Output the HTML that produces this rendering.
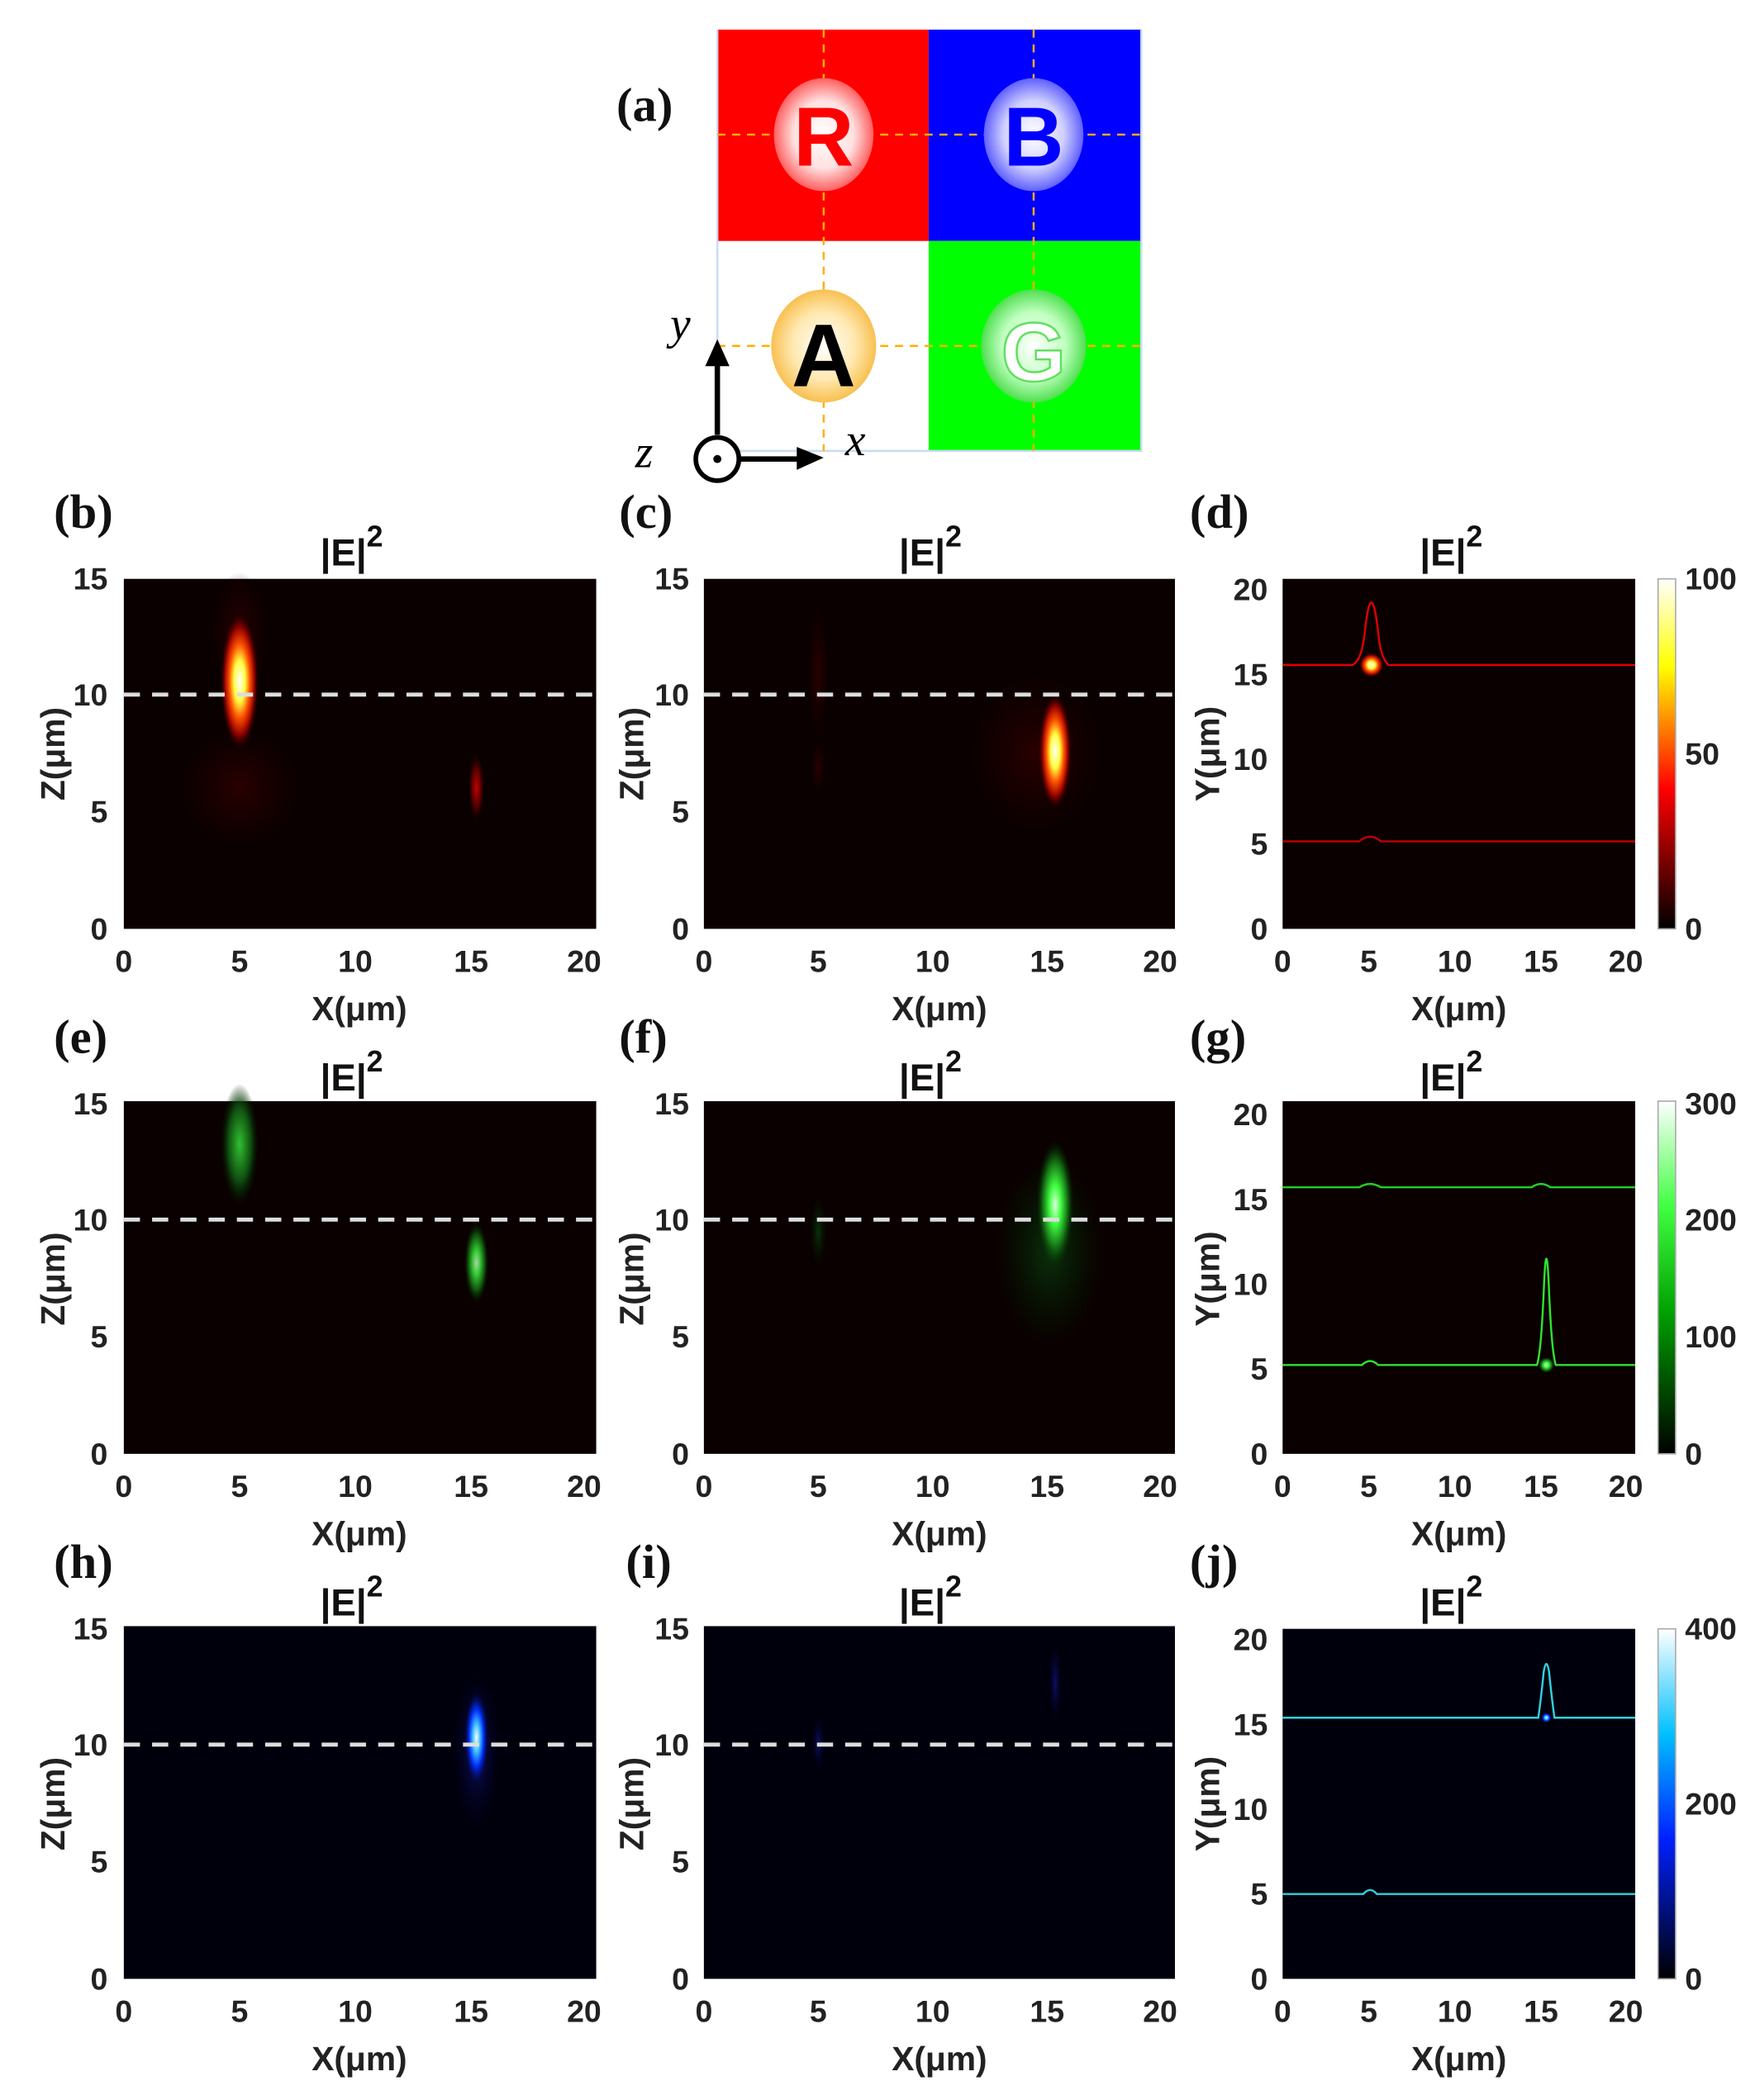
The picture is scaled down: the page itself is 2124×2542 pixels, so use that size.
<!DOCTYPE html>
<html><head><meta charset="utf-8"><style>
html,body{margin:0;padding:0;background:#fff;}
svg{display:block;}
.t{font-family:"Liberation Sans",sans-serif;font-weight:bold;font-size:23px;fill:#222;}
.al{font-family:"Liberation Sans",sans-serif;font-weight:bold;font-size:25px;fill:#222;}
.pl{font-family:"Liberation Serif",serif;font-weight:bold;font-size:36px;fill:#111;}
.ti{font-family:"Liberation Sans",sans-serif;font-weight:bold;font-size:28px;fill:#111;}
</style></head><body>
<svg width="2124" height="2542" viewBox="0 0 1304 1560" preserveAspectRatio="none" xmlns="http://www.w3.org/2000/svg">
<defs>
<radialGradient id="hot"><stop offset="0" stop-color="#fff"/><stop offset="0.3" stop-color="#ffff40"/><stop offset="0.55" stop-color="#ff5000"/><stop offset="0.8" stop-color="#900000"/><stop offset="1" stop-color="#300000" stop-opacity="0"/></radialGradient>
<radialGradient id="dred"><stop offset="0" stop-color="#c00000"/><stop offset="0.6" stop-color="#500000"/><stop offset="1" stop-color="#200000" stop-opacity="0"/></radialGradient>
<radialGradient id="faint"><stop offset="0" stop-color="#2a0000"/><stop offset="1" stop-color="#200000" stop-opacity="0"/></radialGradient>
<radialGradient id="grn"><stop offset="0" stop-color="#e0ffe0"/><stop offset="0.3" stop-color="#40ff40"/><stop offset="0.7" stop-color="#106010"/><stop offset="1" stop-color="#002000" stop-opacity="0"/></radialGradient>
<radialGradient id="dgrn"><stop offset="0" stop-color="#30c030"/><stop offset="0.6" stop-color="#105010"/><stop offset="1" stop-color="#002000" stop-opacity="0"/></radialGradient>
<radialGradient id="fgrn"><stop offset="0" stop-color="#0c300c"/><stop offset="1" stop-color="#002000" stop-opacity="0"/></radialGradient>
<radialGradient id="blu"><stop offset="0" stop-color="#fff"/><stop offset="0.3" stop-color="#40c0ff"/><stop offset="0.6" stop-color="#0030ff"/><stop offset="1" stop-color="#000040" stop-opacity="0"/></radialGradient>
<radialGradient id="fblu"><stop offset="0" stop-color="#101060"/><stop offset="1" stop-color="#000030" stop-opacity="0"/></radialGradient>
<radialGradient id="cR"><stop offset="0" stop-color="#fff"/><stop offset="0.6" stop-color="#ffe0e0"/><stop offset="1" stop-color="#ff6060"/></radialGradient>
<radialGradient id="cB"><stop offset="0" stop-color="#fff"/><stop offset="0.6" stop-color="#d0d0ff"/><stop offset="1" stop-color="#6060ff"/></radialGradient>
<radialGradient id="cA"><stop offset="0" stop-color="#fff"/><stop offset="0.6" stop-color="#ffe8b0"/><stop offset="1" stop-color="#f8c050"/></radialGradient>
<radialGradient id="cG"><stop offset="0" stop-color="#fff"/><stop offset="0.6" stop-color="#c0ffc0"/><stop offset="1" stop-color="#50e050"/></radialGradient>
<linearGradient id="cbHot" x1="0" y1="1" x2="0" y2="0"><stop offset="0" stop-color="#000"/><stop offset="0.4" stop-color="#ff0000"/><stop offset="0.75" stop-color="#ffff00"/><stop offset="1" stop-color="#fff"/></linearGradient>
<linearGradient id="cbG" x1="0" y1="1" x2="0" y2="0"><stop offset="0" stop-color="#000"/><stop offset="0.4" stop-color="#00a000"/><stop offset="0.7" stop-color="#40ff40"/><stop offset="1" stop-color="#fff"/></linearGradient>
<linearGradient id="cbB" x1="0" y1="1" x2="0" y2="0"><stop offset="0" stop-color="#000"/><stop offset="0.4" stop-color="#0020ff"/><stop offset="0.7" stop-color="#00c0ff"/><stop offset="1" stop-color="#fff"/></linearGradient>
</defs>

<!-- (a) -->
<text class="pl" x="458" y="90">(a)</text>
<rect x="533" y="22" width="157" height="157" fill="#ff0000"/>
<rect x="690" y="22" width="158" height="157" fill="#0000ff"/>
<rect x="690" y="179" width="158" height="156" fill="#00ff00"/>
<path d="M533 22V335H848V22" fill="none" stroke="#c8dcf0" stroke-width="1.5"/>
<g stroke="#ffb000" stroke-width="1.5" stroke-dasharray="6,5" fill="none">
<path d="M612 22V335M768 22V335M533 100H848M533 257H848"/></g>
<ellipse cx="612" cy="100" rx="37" ry="42" fill="url(#cR)"/>
<ellipse cx="768" cy="100" rx="37" ry="42" fill="url(#cB)"/>
<ellipse cx="612" cy="257" rx="39" ry="42" fill="url(#cA)"/>
<ellipse cx="768" cy="257" rx="39" ry="42" fill="url(#cG)"/>
<text x="612" y="123" text-anchor="middle" style="font-family:'Liberation Sans',sans-serif;font-weight:bold;font-size:62px;fill:#ff0000">R</text>
<text x="768" y="123" text-anchor="middle" style="font-family:'Liberation Sans',sans-serif;font-weight:bold;font-size:62px;fill:#0000ff">B</text>
<text x="612" y="287" text-anchor="middle" style="font-family:'Liberation Sans',sans-serif;font-weight:bold;font-size:66px;fill:#000">A</text>
<text x="768" y="283" text-anchor="middle" style="font-family:'Liberation Sans',sans-serif;font-weight:bold;font-size:62px;fill:#fff;stroke:#60e060;stroke-width:1.5">G</text>
<path d="M533 323V268" stroke="#000" stroke-width="4"/>
<path d="M524 272L533 252L542 272Z" fill="#000"/>
<path d="M549 341H596" stroke="#000" stroke-width="4"/>
<path d="M592 332L612 340L592 349Z" fill="#000"/>
<circle cx="533" cy="341" r="16" fill="#fff" stroke="#000" stroke-width="3.5"/>
<circle cx="533" cy="341" r="3" fill="#000"/>
<text x="498" y="252" style="font-family:'Liberation Serif',serif;font-style:italic;font-size:34px">y</text>
<text x="628" y="338" style="font-family:'Liberation Serif',serif;font-style:italic;font-size:34px">x</text>
<text x="472" y="347" style="font-family:'Liberation Serif',serif;font-style:italic;font-size:34px">z</text>

<!-- ROW 1 -->
<g>
<text class="pl" x="40" y="392">(b)</text>
<text class="ti" x="238" y="420">|E|<tspan dy="-14" font-size="22">2</tspan></text>
<rect x="92" y="430" width="351" height="260" fill="#0a0000"/>
<ellipse cx="178" cy="470" rx="22" ry="45" fill="url(#faint)"/>
<ellipse cx="178" cy="585" rx="45" ry="45" fill="url(#faint)"/>
<ellipse cx="178" cy="506" rx="14" ry="50" fill="url(#hot)"/>
<ellipse cx="354" cy="585" rx="6" ry="25" fill="url(#dred)"/>
<path d="M92 516H443" stroke="#ddd" stroke-width="3" stroke-dasharray="12,9"/>
<text class="t" x="80" y="438" text-anchor="end">15</text><text class="t" x="80" y="524" text-anchor="end">10</text><text class="t" x="80" y="611" text-anchor="end">5</text><text class="t" x="80" y="698" text-anchor="end">0</text>
<text class="t" x="92" y="722" text-anchor="middle">0</text><text class="t" x="178" y="722" text-anchor="middle">5</text><text class="t" x="264" y="722" text-anchor="middle">10</text><text class="t" x="350" y="722" text-anchor="middle">15</text><text class="t" x="434" y="722" text-anchor="middle">20</text>
<text class="al" x="267" y="758" text-anchor="middle">X(μm)</text>
<text class="al" transform="translate(48,560) rotate(-90)" text-anchor="middle">Z(μm)</text>
</g>
<g>
<text class="pl" x="460" y="392">(c)</text>
<text class="ti" x="668" y="420">|E|<tspan dy="-14" font-size="22">2</tspan></text>
<rect x="523" y="430" width="350" height="260" fill="#0a0000"/>
<ellipse cx="608" cy="500" rx="8" ry="50" fill="url(#faint)"/>
<ellipse cx="608" cy="570" rx="6" ry="20" fill="url(#faint)"/>
<ellipse cx="770" cy="560" rx="50" ry="60" fill="url(#faint)"/>
<ellipse cx="784" cy="558" rx="12" ry="42" fill="url(#hot)"/>
<path d="M523 516H873" stroke="#ddd" stroke-width="3" stroke-dasharray="12,9"/>
<text class="t" x="512" y="438" text-anchor="end">15</text><text class="t" x="512" y="524" text-anchor="end">10</text><text class="t" x="512" y="611" text-anchor="end">5</text><text class="t" x="512" y="698" text-anchor="end">0</text>
<text class="t" x="523" y="722" text-anchor="middle">0</text><text class="t" x="608" y="722" text-anchor="middle">5</text><text class="t" x="693" y="722" text-anchor="middle">10</text><text class="t" x="778" y="722" text-anchor="middle">15</text><text class="t" x="862" y="722" text-anchor="middle">20</text>
<text class="al" x="698" y="758" text-anchor="middle">X(μm)</text>
<text class="al" transform="translate(478,560) rotate(-90)" text-anchor="middle">Z(μm)</text>
</g>
<g>
<text class="pl" x="884" y="392">(d)</text>
<text class="ti" x="1055" y="420">|E|<tspan dy="-14" font-size="22">2</tspan></text>
<rect x="953" y="430" width="262" height="260" fill="#0a0000"/>
<path d="M953 494H1005Q1012 490 1014 470Q1019 425 1024 470Q1026 490 1032 494H1215" fill="none" stroke="#e00000" stroke-width="1.5"/>
<path d="M953 625H1010Q1018 618 1026 625H1215" fill="none" stroke="#c00000" stroke-width="1.5"/>
<circle cx="1019" cy="494" r="9" fill="url(#hot)"/>
<rect x="1232" y="430" width="13" height="260" fill="url(#cbHot)" stroke="#aaa" stroke-width="1"/>
<text class="t" x="1252" y="438">100</text><text class="t" x="1252" y="568">50</text><text class="t" x="1252" y="698">0</text>
<text class="t" x="942" y="446" text-anchor="end">20</text><text class="t" x="942" y="509" text-anchor="end">15</text><text class="t" x="942" y="572" text-anchor="end">10</text><text class="t" x="942" y="635" text-anchor="end">5</text><text class="t" x="942" y="698" text-anchor="end">0</text>
<text class="t" x="953" y="722" text-anchor="middle">0</text><text class="t" x="1017" y="722" text-anchor="middle">5</text><text class="t" x="1081" y="722" text-anchor="middle">10</text><text class="t" x="1145" y="722" text-anchor="middle">15</text><text class="t" x="1208" y="722" text-anchor="middle">20</text>
<text class="al" x="1084" y="758" text-anchor="middle">X(μm)</text>
<text class="al" transform="translate(906,560) rotate(-90)" text-anchor="middle">Y(μm)</text>
</g>

<!-- ROW 2 -->
<g transform="translate(0,390)">
<text class="pl" x="40" y="392">(e)</text>
<text class="ti" x="238" y="420">|E|<tspan dy="-14" font-size="22">2</tspan></text>
<rect x="92" y="428" width="351" height="262" fill="#0a0000"/>
<ellipse cx="178" cy="460" rx="14" ry="45" fill="url(#dgrn)"/>
<ellipse cx="354" cy="548" rx="9" ry="30" fill="url(#grn)" opacity="0.8"/>
<path d="M92 516H443" stroke="#ddd" stroke-width="3" stroke-dasharray="12,9"/>
<text class="t" x="80" y="438" text-anchor="end">15</text><text class="t" x="80" y="524" text-anchor="end">10</text><text class="t" x="80" y="611" text-anchor="end">5</text><text class="t" x="80" y="698" text-anchor="end">0</text>
<text class="t" x="92" y="722" text-anchor="middle">0</text><text class="t" x="178" y="722" text-anchor="middle">5</text><text class="t" x="264" y="722" text-anchor="middle">10</text><text class="t" x="350" y="722" text-anchor="middle">15</text><text class="t" x="434" y="722" text-anchor="middle">20</text>
<text class="al" x="267" y="758" text-anchor="middle">X(μm)</text>
<text class="al" transform="translate(48,560) rotate(-90)" text-anchor="middle">Z(μm)</text>
</g>
<g transform="translate(0,390)">
<text class="pl" x="460" y="392">(f)</text>
<text class="ti" x="668" y="420">|E|<tspan dy="-14" font-size="22">2</tspan></text>
<rect x="523" y="428" width="350" height="262" fill="#0a0000"/>
<ellipse cx="608" cy="525" rx="6" ry="25" fill="url(#fgrn)"/>
<ellipse cx="780" cy="540" rx="40" ry="70" fill="url(#fgrn)"/>
<ellipse cx="784" cy="505" rx="14" ry="48" fill="url(#grn)"/>
<path d="M523 516H873" stroke="#ddd" stroke-width="3" stroke-dasharray="12,9"/>
<text class="t" x="512" y="438" text-anchor="end">15</text><text class="t" x="512" y="524" text-anchor="end">10</text><text class="t" x="512" y="611" text-anchor="end">5</text><text class="t" x="512" y="698" text-anchor="end">0</text>
<text class="t" x="523" y="722" text-anchor="middle">0</text><text class="t" x="608" y="722" text-anchor="middle">5</text><text class="t" x="693" y="722" text-anchor="middle">10</text><text class="t" x="778" y="722" text-anchor="middle">15</text><text class="t" x="862" y="722" text-anchor="middle">20</text>
<text class="al" x="698" y="758" text-anchor="middle">X(μm)</text>
<text class="al" transform="translate(478,560) rotate(-90)" text-anchor="middle">Z(μm)</text>
</g>
<g transform="translate(0,390)">
<text class="pl" x="884" y="392">(g)</text>
<text class="ti" x="1055" y="420">|E|<tspan dy="-14" font-size="22">2</tspan></text>
<rect x="953" y="428" width="262" height="262" fill="#0a0000"/>
<path d="M953 492H1010Q1018 487 1026 492H1138Q1145 487 1152 492H1215" fill="none" stroke="#20d020" stroke-width="1.5"/>
<path d="M953 624H1012Q1018 618 1024 624H1142Q1145 615 1147 570Q1149 520 1151 570Q1153 615 1156 624H1215" fill="none" stroke="#30e030" stroke-width="1.5"/>
<circle cx="1149" cy="624" r="6" fill="url(#grn)"/>
<rect x="1232" y="428" width="13" height="262" fill="url(#cbG)" stroke="#aaa" stroke-width="1"/>
<text class="t" x="1252" y="438">300</text><text class="t" x="1252" y="524">200</text><text class="t" x="1252" y="611">100</text><text class="t" x="1252" y="698">0</text>
<text class="t" x="942" y="446" text-anchor="end">20</text><text class="t" x="942" y="509" text-anchor="end">15</text><text class="t" x="942" y="572" text-anchor="end">10</text><text class="t" x="942" y="635" text-anchor="end">5</text><text class="t" x="942" y="698" text-anchor="end">0</text>
<text class="t" x="953" y="722" text-anchor="middle">0</text><text class="t" x="1017" y="722" text-anchor="middle">5</text><text class="t" x="1081" y="722" text-anchor="middle">10</text><text class="t" x="1145" y="722" text-anchor="middle">15</text><text class="t" x="1208" y="722" text-anchor="middle">20</text>
<text class="al" x="1084" y="758" text-anchor="middle">X(μm)</text>
<text class="al" transform="translate(906,560) rotate(-90)" text-anchor="middle">Y(μm)</text>
</g>

<!-- ROW 3 -->
<g transform="translate(0,780)">
<text class="pl" x="40" y="392">(h)</text>
<text class="ti" x="238" y="420">|E|<tspan dy="-14" font-size="22">2</tspan></text>
<rect x="92" y="428" width="351" height="262" fill="#00000c"/>
<ellipse cx="354" cy="520" rx="18" ry="60" fill="url(#fblu)"/>
<ellipse cx="354" cy="511" rx="9" ry="35" fill="url(#blu)"/>
<path d="M92 516H443" stroke="#ddd" stroke-width="3" stroke-dasharray="12,9"/>
<text class="t" x="80" y="438" text-anchor="end">15</text><text class="t" x="80" y="524" text-anchor="end">10</text><text class="t" x="80" y="611" text-anchor="end">5</text><text class="t" x="80" y="698" text-anchor="end">0</text>
<text class="t" x="92" y="722" text-anchor="middle">0</text><text class="t" x="178" y="722" text-anchor="middle">5</text><text class="t" x="264" y="722" text-anchor="middle">10</text><text class="t" x="350" y="722" text-anchor="middle">15</text><text class="t" x="434" y="722" text-anchor="middle">20</text>
<text class="al" x="267" y="758" text-anchor="middle">X(μm)</text>
<text class="al" transform="translate(48,560) rotate(-90)" text-anchor="middle">Z(μm)</text>
</g>
<g transform="translate(0,780)">
<text class="pl" x="465" y="392">(i)</text>
<text class="ti" x="668" y="420">|E|<tspan dy="-14" font-size="22">2</tspan></text>
<rect x="523" y="428" width="350" height="262" fill="#00000c"/>
<ellipse cx="608" cy="515" rx="5" ry="20" fill="url(#fblu)"/>
<ellipse cx="784" cy="470" rx="5" ry="30" fill="url(#fblu)"/>
<path d="M523 516H873" stroke="#ddd" stroke-width="3" stroke-dasharray="12,9"/>
<text class="t" x="512" y="438" text-anchor="end">15</text><text class="t" x="512" y="524" text-anchor="end">10</text><text class="t" x="512" y="611" text-anchor="end">5</text><text class="t" x="512" y="698" text-anchor="end">0</text>
<text class="t" x="523" y="722" text-anchor="middle">0</text><text class="t" x="608" y="722" text-anchor="middle">5</text><text class="t" x="693" y="722" text-anchor="middle">10</text><text class="t" x="778" y="722" text-anchor="middle">15</text><text class="t" x="862" y="722" text-anchor="middle">20</text>
<text class="al" x="698" y="758" text-anchor="middle">X(μm)</text>
<text class="al" transform="translate(478,560) rotate(-90)" text-anchor="middle">Z(μm)</text>
</g>
<g transform="translate(0,780)">
<text class="pl" x="884" y="392">(j)</text>
<text class="ti" x="1055" y="420">|E|<tspan dy="-14" font-size="22">2</tspan></text>
<rect x="953" y="430" width="262" height="260" fill="#00000c"/>
<path d="M953 496H1143Q1145 482 1147 462Q1149 450 1151 462Q1153 482 1155 496H1215" fill="none" stroke="#30d0e0" stroke-width="1.5"/>
<path d="M953 627H1013Q1018 621 1023 627H1215" fill="none" stroke="#30d0e0" stroke-width="1.5"/>
<circle cx="1149" cy="496" r="4" fill="url(#blu)"/>
<rect x="1232" y="430" width="13" height="260" fill="url(#cbB)" stroke="#aaa" stroke-width="1"/>
<text class="t" x="1252" y="438">400</text><text class="t" x="1252" y="568">200</text><text class="t" x="1252" y="698">0</text>
<text class="t" x="942" y="446" text-anchor="end">20</text><text class="t" x="942" y="509" text-anchor="end">15</text><text class="t" x="942" y="572" text-anchor="end">10</text><text class="t" x="942" y="635" text-anchor="end">5</text><text class="t" x="942" y="698" text-anchor="end">0</text>
<text class="t" x="953" y="722" text-anchor="middle">0</text><text class="t" x="1017" y="722" text-anchor="middle">5</text><text class="t" x="1081" y="722" text-anchor="middle">10</text><text class="t" x="1145" y="722" text-anchor="middle">15</text><text class="t" x="1208" y="722" text-anchor="middle">20</text>
<text class="al" x="1084" y="758" text-anchor="middle">X(μm)</text>
<text class="al" transform="translate(906,560) rotate(-90)" text-anchor="middle">Y(μm)</text>
</g>
</svg>
</body></html>
